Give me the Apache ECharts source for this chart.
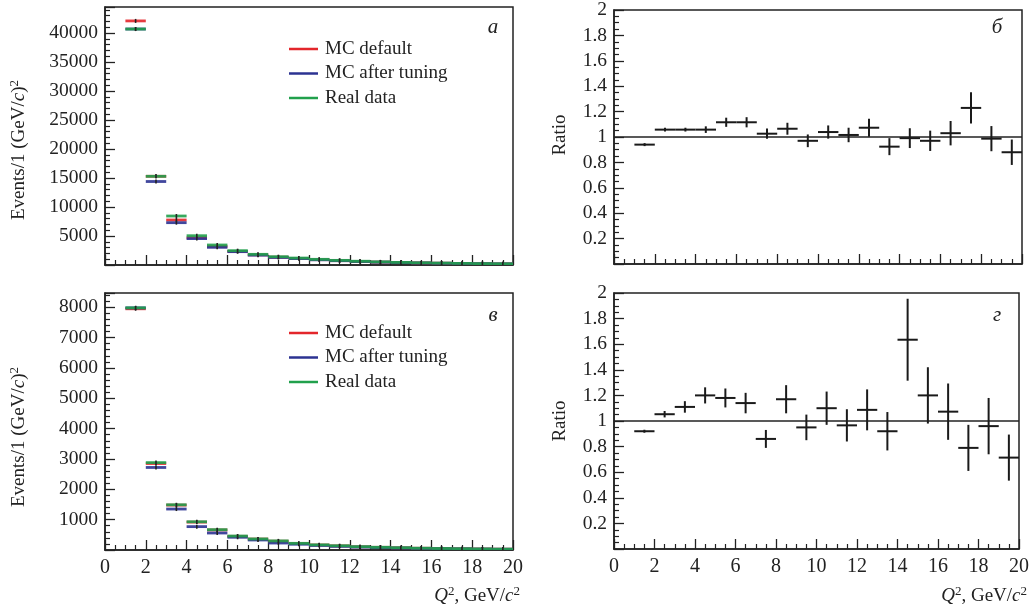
<!DOCTYPE html>
<html>
<head>
<meta charset="utf-8">
<script src="https://cdn.jsdelivr.net/npm/echarts@6/dist/echarts.min.js"></script>
<style>
html,body{margin:0;padding:0;background:#fff;}
#chart{width:1032px;height:611px;}
</style>
</head>
<body>
<div id="chart"></div>
<script>
// ---------- DATA ----------
const binEdges = [1,2,3,4,5,6,7,8,9,10,11,12,13,14,15,16,17,18,19,20];
const seriesNames = ['MC default', 'MC after tuning', 'Real data'];
const xTickLabels = ['0','2','4','6','8','10','12','14','16','18','20'];

// panel a (top-left): events per bin
const topDefault = [42100, 15300, 7760, 4700, 3200, 2350, 1750, 1350, 1130, 920, 750, 610, 500, 420, 360, 310, 265, 225, 195];
const topTuned   = [40700, 14400, 7300, 4550, 3050, 2300, 1700, 1300, 1100, 900, 740, 600, 490, 410, 350, 300, 260, 220, 190];
const topData    = [40700, 15300, 8450, 5050, 3450, 2470, 1840, 1430, 1200, 980, 800, 650, 540, 450, 380, 330, 280, 240, 210];

// panel v (bottom-left)
const botDefault = [7950, 2850, 1480, 920, 660, 450, 360, 290, 215, 165, 135, 105, 88, 72, 58, 48, 40, 33, 27];
const botTuned   = [7980, 2720, 1350, 770, 560, 420, 330, 230, 190, 150, 120, 95, 80, 65, 52, 44, 37, 30, 25];
const botData    = [7980, 2880, 1490, 930, 670, 460, 365, 300, 220, 170, 140, 110, 90, 75, 60, 50, 42, 35, 28];

// panel b (top-right): ratio and its error
const ratioTop    = [0.94, 1.058, 1.058, 1.058, 1.116, 1.116, 1.026, 1.065, 0.97, 1.039, 1.016, 1.073, 0.924, 0.991, 0.97, 1.03, 1.229, 0.987, 0.88];
const ratioTopErr = [0.005, 0.014, 0.015, 0.026, 0.036, 0.04, 0.04, 0.047, 0.05, 0.052, 0.057, 0.071, 0.067, 0.078, 0.08, 0.096, 0.123, 0.099, 0.1];

// panel g (bottom-right)
const ratioBot    = [0.92, 1.053, 1.11, 1.20, 1.18, 1.14, 0.86, 1.17, 0.95, 1.10, 0.966, 1.087, 0.92, 1.635, 1.20, 1.073, 0.79, 0.96, 0.714];
const ratioBotErr = [0.008, 0.025, 0.045, 0.063, 0.074, 0.08, 0.07, 0.11, 0.10, 0.13, 0.126, 0.16, 0.15, 0.32, 0.22, 0.22, 0.18, 0.22, 0.18];

const panelLetters = ['а', 'б', 'в', 'г'];

// ---------- BUILD ----------
const FONT = 'Liberation Serif';
const colors = {'MC default':'#e3262b', 'MC after tuning':'#2c3392', 'Real data':'#21a04c'};

function histData(vals){ return vals.map((v,i)=>[binEdges[i], binEdges[i+1], v]); }
function ratioData(vals, errs){ return vals.map((v,i)=>[binEdges[i], binEdges[i+1], v, errs[i]]); }

function histRender(color){
  return function(params, api){
    const lo = api.value(0), hi = api.value(1), v = api.value(2);
    const p0 = api.coord([lo, v]), p1 = api.coord([hi, v]);
    const c = api.coord([(lo+hi)/2, v]);
    return {type:'group', children:[
      {type:'line', shape:{x1:p0[0], y1:p0[1], x2:p1[0], y2:p1[1]}, style:{stroke:color, lineWidth:2.8, opacity:0.9}},
      {type:'line', shape:{x1:c[0], y1:c[1]-2, x2:c[0], y2:c[1]+2}, style:{stroke:'#222', lineWidth:1.6}}
    ]};
  };
}
function ratioRender(params, api){
  const lo = api.value(0), hi = api.value(1), v = api.value(2), e = api.value(3);
  const p0 = api.coord([lo, v]), p1 = api.coord([hi, v]);
  const m = (lo+hi)/2;
  const a = api.coord([m, v+e]), b = api.coord([m, v-e]);
  return {type:'group', children:[
    {type:'line', shape:{x1:p0[0], y1:p0[1], x2:p1[0], y2:p1[1]}, style:{stroke:'#1a1a1a', lineWidth:2}},
    {type:'line', shape:{x1:a[0], y1:Math.min(a[1], p0[1]-1.5), x2:b[0], y2:Math.max(b[1], p0[1]+1.5)}, style:{stroke:'#1a1a1a', lineWidth:2}}
  ]};
}

const grids = [
  {left:105, top:7, width:408, height:258},
  {left:614, top:7, width:408, height:257},
  {left:105, top:293, width:408, height:257},
  {left:614, top:293, width:408, height:256}
];
grids.forEach(g=>{ g.show = true; g.borderColor = '#222'; g.borderWidth = 1.5; g.backgroundColor='transparent'; });

function xAxis(gi, showLabels){
  return {type:'value', gridIndex:gi, min:0, max:20, interval:2,
    axisLine:{show:true, lineStyle:{color:'#222', width:1.5}},
    axisTick:{show:true, inside:true, length:10, lineStyle:{color:'#222', width:1.3}},
    minorTick:{show:true, splitNumber:4, length:5, lineStyle:{color:'#222', width:1.2}},
    splitLine:{show:false},
    axisLabel:{show:showLabels, margin:8, fontFamily:FONT, fontSize:20, color:'#222',
      formatter:(v)=> xTickLabels[Math.round(v/2)]}
  };
}
function yAxis(gi, max, interval, minorSplit, fmt){
  return {type:'value', gridIndex:gi, min:0, max:max, interval:interval,
    axisLine:{show:true, lineStyle:{color:'#222', width:1.5}},
    axisTick:{show:true, inside:true, length:10, lineStyle:{color:'#222', width:1.3}},
    minorTick:{show:true, splitNumber:minorSplit, length:5, lineStyle:{color:'#222', width:1.2}},
    splitLine:{show:false},
    axisLabel:{show:true, margin:7, fontFamily:FONT, fontSize:19.5, color:'#222',
      formatter:fmt}
  };
}
const fmtCountStep = step => v => (v === 0 || Math.abs(v/step - Math.round(v/step)) > 1e-6) ? '' : String(v);
const fmtRatio = v => v === 0 ? '' : String(Math.round(v*10)/10);

const series = [];
[[0, topDefault, topTuned, topData], [2, botDefault, botTuned, botData]].forEach(([gi, d, t, r])=>{
  [[seriesNames[0], d], [seriesNames[1], t], [seriesNames[2], r]].forEach(([name, vals])=>{
    series.push({type:'custom', name:name, xAxisIndex:gi, yAxisIndex:gi,
      itemStyle:{color:colors[name]}, renderItem:histRender(colors[name]),
      encode:{x:[0,1], y:2}, data:histData(vals), clip:true, z:3});
  });
});
[[1, ratioTop, ratioTopErr], [3, ratioBot, ratioBotErr]].forEach(([gi, v, e])=>{
  series.push({type:'line', xAxisIndex:gi, yAxisIndex:gi, data:[[0,1],[20,1]], symbol:'none',
    lineStyle:{color:'#222', width:1.5}, silent:true, z:2});
  series.push({type:'custom', name:'ratio'+gi, xAxisIndex:gi, yAxisIndex:gi, renderItem:ratioRender,
    encode:{x:[0,1], y:[2]}, data:ratioData(v, e), clip:true, z:3});
});

function legend(top){
  return {data:seriesNames, orient:'vertical', left:284, top:top, icon:'rect',
    itemWidth:29, itemHeight:2.5, itemGap:4.5,
    textStyle:{fontFamily:FONT, fontSize:19, color:'#222', lineHeight:20, padding:[0,0,0,2]},
    selectedMode:false};
}

const richBase = {
  n:{fontFamily:FONT, fontSize:19, color:'#222'},
  i:{fontFamily:FONT, fontSize:19, fontStyle:'italic', color:'#222'},
  s:{fontFamily:FONT, fontSize:13, color:'#222', padding:[0,0,9,0]}
};
function txt(x, y, text, opts){
  return Object.assign({type:'text', x:x, y:y, style:Object.assign({text:text, rich:richBase,
    fontFamily:FONT, fontSize:19, fill:'#222'}, opts.style||{})}, opts.el||{});
}

const graphic = [
  txt(19, 150, '{n|Events/1 (GeV/}{i|c}{n|)}{s|2}', {style:{align:'center', verticalAlign:'middle'}, el:{rotation:Math.PI/2}}),
  txt(19, 437, '{n|Events/1 (GeV/}{i|c}{n|)}{s|2}', {style:{align:'center', verticalAlign:'middle'}, el:{rotation:Math.PI/2}}),
  txt(560, 135, 'Ratio', {style:{align:'center', verticalAlign:'middle'}, el:{rotation:Math.PI/2}}),
  txt(560, 421, 'Ratio', {style:{align:'center', verticalAlign:'middle'}, el:{rotation:Math.PI/2}}),
  txt(520, 596, '{i|Q}{s|2}{n|, GeV/}{i|c}{s|2}', {style:{align:'right', verticalAlign:'middle'}}),
  txt(1027, 596, '{i|Q}{s|2}{n|, GeV/}{i|c}{s|2}', {style:{align:'right', verticalAlign:'middle'}}),
  txt(493, 27, panelLetters[0], {style:{align:'center', verticalAlign:'middle', fontStyle:'italic', fontSize:21}}),
  txt(997, 27, panelLetters[1], {style:{align:'center', verticalAlign:'middle', fontStyle:'italic', fontSize:21}}),
  txt(493, 315, panelLetters[2], {style:{align:'center', verticalAlign:'middle', fontStyle:'italic', fontSize:21}}),
  txt(997, 315, panelLetters[3], {style:{align:'center', verticalAlign:'middle', fontStyle:'italic', fontSize:21}})
];

const option = {
  animation:false,
  backgroundColor:'#fff',
  grid:grids,
  xAxis:[xAxis(0,false), xAxis(1,false), xAxis(2,true), xAxis(3,true)],
  yAxis:[
    yAxis(0, 44500, 5000, 5, fmtCountStep(5000)),
    yAxis(1, 2, 0.2, 4, fmtRatio),
    yAxis(2, 8470, 1000, 5, fmtCountStep(1000)),
    yAxis(3, 2, 0.2, 4, fmtRatio)
  ],
  legend:[legend(34), legend(318)],
  series:series,
  graphic:graphic
};

const chart = echarts.init(document.getElementById('chart'), null, {renderer:'canvas'});
chart.setOption(option);
</script>
</body>
</html>
